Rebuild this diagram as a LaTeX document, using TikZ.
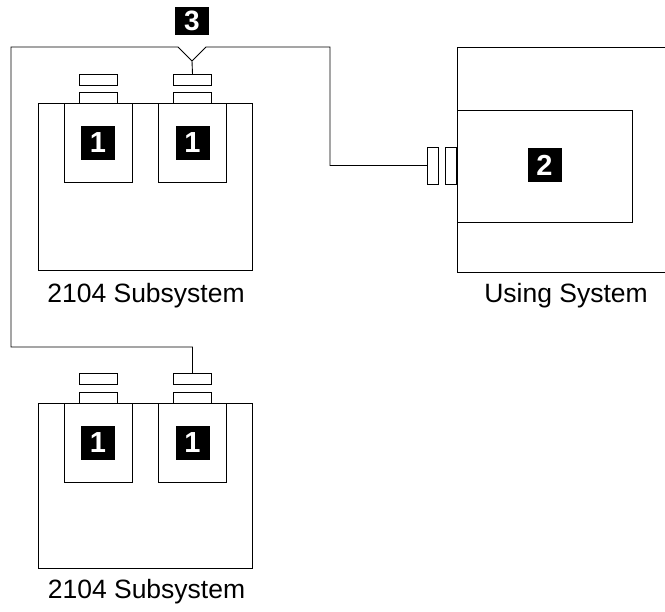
\documentclass[tikz,border=0pt]{standalone}
\usepackage{fontspec}
\setmainfont{Liberation Sans}
\usepackage{tikz}
\usetikzlibrary{positioning}

\tikzset{
  box/.style={draw, rectangle, inner sep=0pt, outer sep=0pt},
  tag/.style={fill=black, text=white, inner sep=0pt, outer sep=0pt,
    font=\fontsize{29}{29}\selectfont\bfseries, minimum width=34pt, minimum height=34pt},
  caption/.style={anchor=base, inner sep=0pt, font=\fontsize{26.5}{30}\selectfont}
}

\begin{document}
\begin{tikzpicture}[x=1pt, y=-1pt, line width=0.9pt]
\useasboundingbox (0,0) rectangle (665,612);

% first 2104 subsystem
\node[box, minimum width=214pt, minimum height=167pt] (subA) at (145,186.5) {};
\node[box, minimum width=68pt, minimum height=79pt] (driveA) at (98,142.5) {};
\node[box, minimum width=68pt, minimum height=79pt] (driveB) at (192.5,142.5) {};
\node[box, minimum width=38pt, minimum height=11pt] (sockA) at (98,97.5) {};
\node[box, minimum width=38pt, minimum height=11pt] (capA) at (98,79.5) {};
\node[box, minimum width=38pt, minimum height=11pt] (sockB) at (192.5,97.5) {};
\node[box, minimum width=38pt, minimum height=11pt] (capB) at (192.5,79.5) {};
\node[tag] (tagA) at (98,143) {1};
\node[tag] (tagB) at (192.5,143) {1};
\node[caption] (nameA) at (146,303) {2104 Subsystem};

% second 2104 subsystem
\node[box, minimum width=214pt, minimum height=165pt] (subB) at (145,485.5) {};
\node[box, minimum width=68pt, minimum height=79pt] (driveC) at (98,442.5) {};
\node[box, minimum width=68pt, minimum height=79pt] (driveD) at (192.5,442.5) {};
\node[box, minimum width=38pt, minimum height=11pt] (sockC) at (98,397.5) {};
\node[box, minimum width=38pt, minimum height=11pt] (capC) at (98,379) {};
\node[box, minimum width=38pt, minimum height=11pt] (sockD) at (192.5,397.5) {};
\node[box, minimum width=38pt, minimum height=11pt] (capD) at (192.5,379) {};
\node[tag] (tagC) at (98,443) {1};
\node[tag] (tagD) at (192.5,443) {1};
\node[caption] (nameB) at (146.5,599) {2104 Subsystem};

% using system
\draw (680,47) -- (457,47) -- (457,272) -- (680,272);
\node[box, minimum width=175pt, minimum height=112pt] (adapter) at (544.5,166) {};
\node[tag] (tagE) at (544.5,165.5) {2};
\node[box, minimum width=11pt, minimum height=37pt] (plugB) at (450.5,165.5) {};
\node[box, minimum width=11pt, minimum height=37pt] (plugA) at (432.5,165.5) {};
\node[caption] (nameC) at (566,303) {Using System};

% cable
\node[tag, minimum height=28pt, font=\fontsize{28}{28}\selectfont\bfseries] (tagF) at (192,21) {3};
\coordinate (vtip) at (192,61);
\coordinate (vleft) at (178,47);
\coordinate (vright) at (206,47);
\coordinate (turn) at (330,47);
\coordinate (corner) at (11,47);
\coordinate (bend) at (11,347);
\draw (vtip) -- (capB.north);
\draw (vtip) -- (vleft) -- (corner) -- (bend) -| (capD.north);
\draw (vtip) -- (vright) -- (turn) |- (plugA.west);

\end{tikzpicture}
\end{document}
